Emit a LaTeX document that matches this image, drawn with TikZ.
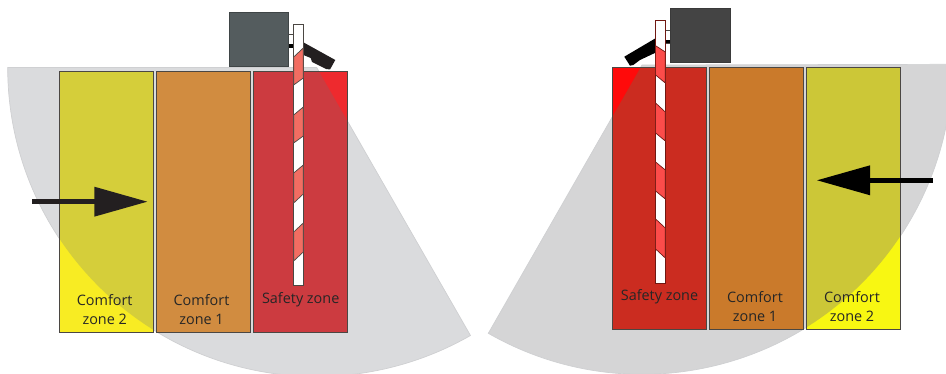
\documentclass[tikz,border=0pt]{standalone}
\usepackage{fontspec}
\setmainfont{Open Sans}
\usetikzlibrary{arrows.meta}

\definecolor{fanL}{HTML}{DADBDD}
\definecolor{fanR}{HTML}{D5D5D6}
\definecolor{fanEdge}{HTML}{CFD0D2}
\definecolor{yellowL}{HTML}{F8EC23}
\definecolor{yellowDullL}{HTML}{D5CE3A}
\definecolor{orangeL}{HTML}{D18C40}
\definecolor{redL}{HTML}{EE2A2E}
\definecolor{redDullL}{HTML}{CC3B40}
\definecolor{yellowR}{HTML}{F8F712}
\definecolor{yellowDullR}{HTML}{CCC737}
\definecolor{orangeR}{HTML}{CA7A2B}
\definecolor{redR}{HTML}{FF0A0A}
\definecolor{redDullR}{HTML}{CB2C20}
\definecolor{zoneEdge}{HTML}{4B4743}
\definecolor{stripeL}{HTML}{F26D62}
\definecolor{stripeR}{HTML}{FC4C4A}
\definecolor{boxL}{HTML}{545C5E}
\definecolor{boxR}{HTML}{444444}
\definecolor{inkBlack}{HTML}{231F20}

\tikzset{
  zonelabel/.style={align=center, text=black!85, font=\fontsize{14.4}{19}\selectfont, inner sep=0pt},
  zoneframe/.style={draw=zoneEdge, line width=0.9pt},
  fanshape/.style={fill=#1, draw=fanEdge, line width=0.7pt},
  pushline/.style={line width=4.8pt, -{Triangle[length=53.4pt,width=28.6pt]}}
}

\begin{document}
\begin{tikzpicture}[x=1pt, y=1pt]
    \path[use as bounding box, clip] (0,0) rectangle (946,374);

    \def\FanLeft{(316.7,306.5) -- (7.7,306.5) arc[start angle=180, end angle=299.85, radius=309pt] -- cycle}
    \def\FanRight{(642,309) -- (488.3,40.7) arc[start angle=240.2, end angle=360, radius=310pt] -- cycle}

    % Sensor fans
    \filldraw[fanshape=fanL] \FanLeft;
    \filldraw[fanshape=fanR] \FanRight;

    % Zones, left side: x start/x end/plain colour/colour inside the fan
    \foreach \xa/\xb/\plain/\dull in {
      59.5/153.5/yellowL/yellowDullL,
      156.5/250.5/orangeL/orangeL,
      253.5/347/redL/redDullL}
      {
      \fill[\plain] (\xa,42) rectangle (\xb,302.5);
      \begin{scope}
        \clip \FanLeft;
        \fill[\dull] (\xa,42) rectangle (\xb,302.5);
      \end{scope}
      \draw[zoneframe] (\xa,42) rectangle (\xb,302.5);
    }

    % Zones, right side
    \foreach \xa/\xb/\plain/\dull in {
      612.5/706.5/redR/redDullR,
      709.5/803.5/orangeR/orangeR,
      806.7/900.3/yellowR/yellowDullR}
      {
      \fill[\plain] (\xa,44.7) rectangle (\xb,306.7);
      \begin{scope}
        \clip \FanRight;
        \fill[\dull] (\xa,44.7) rectangle (\xb,306.7);
      \end{scope}
      \draw[zoneframe] (\xa,44.7) rectangle (\xb,306.7);
    }

    % Left barrier unit
    \filldraw[fill=white, draw=zoneEdge, line width=0.5pt] (288.7,340) rectangle (294,328);
    \fill[black] (288.7,330.3) rectangle (294,325.7);
    \filldraw[fill=boxL, draw=boxL!75!black, line width=0.9pt] (229.3,361.7) rectangle (288.7,307.3);
    \fill[inkBlack] (303.3,331.7) -- (335.3,314) -- (330,304.5) -- (326,305) -- (312,312) -- (310.7,316) -- (303.3,319) -- cycle;
    \filldraw[fill=white, draw=zoneEdge, line width=0.9pt] (293.7,350) rectangle (303.3,88.5);
    % Stripes: y left top/y right top/y left bottom/y right bottom
    \foreach \lt/\rt/\lb/\rb in {317/326/289/296, 259/267/231/238, 201/209/171/180, 142/151/113/122} {
      \filldraw[fill=stripeL, draw=zoneEdge, line width=0.7pt] (293.7,\lt) -- (303.3,\rt) -- (303.3,\rb) -- (293.7,\lb) -- cycle;
    }

    % Right barrier unit
    \filldraw[fill=white, draw=zoneEdge, line width=0.5pt] (665,344) rectangle (670.7,331);
    \fill[black] (665,334) rectangle (670.7,330.7);
    \filldraw[fill=boxR, draw=boxR!85!black, line width=0.9pt] (670.7,365.7) rectangle (730,311.3);
    \fill[black] (655.5,335.7) -- (624.3,317.3) -- (630,308.3) -- (633.3,309) -- (640,314) -- (655.5,321.3) -- cycle;
    \filldraw[fill=white, draw=redDullR!55!black, line width=0.9pt] (655.6,353.3) rectangle (665.3,91);
    \foreach \lt/\rt/\lb/\rb in {328.3/322/299/291, 271/262/241/233, 212/204/183/175, 155/146/125/116} {
      \filldraw[fill=stripeR, draw=redDullR!55!black, line width=0.7pt] (655.6,\lt) -- (665.3,\rt) -- (665.3,\rb) -- (655.6,\lb) -- cycle;
    }

    % Movement arrows
    \coordinate (tailL) at (32,172.3);
    \coordinate (tipL) at (147.7,172.3);
    \coordinate (tailR) at (932.7,193.7);
    \coordinate (tipR) at (816.7,193.7);
    \draw[pushline, inkBlack] (tailL) -- (tipL);
    \draw[pushline, black] (tailR) -- (tipR);

    % Labels
    \node[zonelabel] (comfortTwoL) at (104.7,64) {Comfort\\zone 2};
    \node[zonelabel] (comfortOneL) at (201.5,64) {Comfort\\zone 1};
    \node[zonelabel] (safetyL) at (300.7,74) {Safety zone};
    \node[zonelabel] (safetyR) at (659.5,77) {Safety zone};
    \node[zonelabel] (comfortOneR) at (755,67) {Comfort\\zone 1};
    \node[zonelabel] (comfortTwoR) at (852,67) {Comfort\\zone 2};
\end{tikzpicture}
\end{document}
